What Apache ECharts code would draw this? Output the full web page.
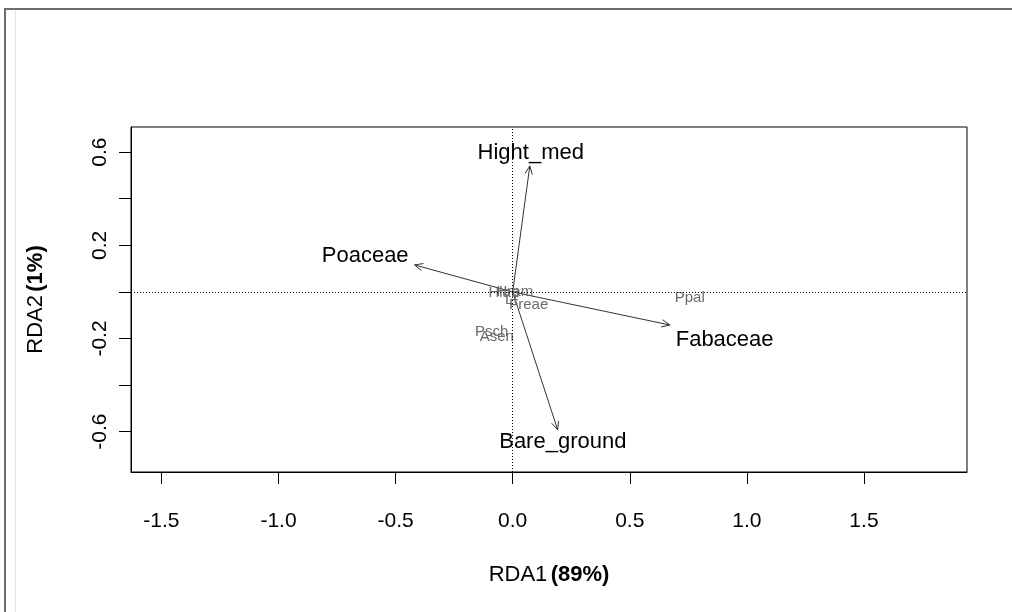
<!DOCTYPE html>
<html>
<head>
<meta charset="utf-8">
<script src="https://cdn.jsdelivr.net/npm/echarts@6/dist/echarts.min.js"></script>
<style>html,body{margin:0;padding:0;background:#fff;}#c{width:1012px;height:612px;}</style>
</head>
<body>
<div id="c"></div>
<script>
// Environmental vectors (arrow tips) and their label positions
const envNames = ['Hight_med', 'Poaceae', 'Fabaceae', 'Bare_ground'];
const envX = [0.073, -0.419, 0.671, 0.192];
const envY = [0.541, 0.116, -0.142, -0.592];
const envLabX = [0.077, -0.63, 0.905, 0.214];
const envLabY = [0.597, 0.155, -0.206, -0.644];
// Species scores
const spNames = ['Ppal', 'Psch', 'Asen', 'Hlan', 'Hram', 'Lt', 'Freae'];
const spX = [0.756, -0.09, -0.068, -0.038, 0.009, -0.006, 0.068];
const spY = [-0.026, -0.172, -0.193, -0.004, 0.0, -0.034, -0.056];
// Axis ticks
const xTicks = [-1.5, -1.0, -0.5, 0.0, 0.5, 1.0, 1.5];
const yTicks = [-0.6, -0.4, -0.2, 0.0, 0.2, 0.4, 0.6];
const yTickLabels = [-0.6, -0.2, 0.2, 0.6];

const FONT = '"Liberation Sans", Arial, sans-serif';
const chart = echarts.init(document.getElementById('c'), null, {renderer: 'canvas'});

const arrowData = envX.map((x, i) => [x, envY[i]]);
const envLabData = envLabX.map((x, i) => [x, envLabY[i], envNames[i]]);
const spData = spX.map((x, i) => [x, spY[i], spNames[i]]);

function textItem(list, color, size) {
  return function (params, api) {
    const p = api.coord([api.value(0), api.value(1)]);
    return {
      type: 'text',
      x: p[0], y: p[1],
      style: {
        text: list[params.dataIndex][2],
        fill: color,
        font: size + 'px ' + FONT,
        align: 'center',
        verticalAlign: 'middle'
      }
    };
  };
}

const option = {
  animation: false,
  backgroundColor: '#fff',
  grid: {left: 131, right: 45, top: 127, bottom: 140, show: true, borderColor: '#000', borderWidth: 1, containLabel: false},
  xAxis: {
    type: 'value', min: -1.63, max: 1.94,
    splitLine: {show: false},
    axisLine: {show: true, onZero: false, lineStyle: {color: '#000', width: 1}},
    axisTick: {show: true, length: 12, lineStyle: {color: '#000'}, customValues: xTicks},
    axisLabel: {customValues: xTicks, fontFamily: FONT, fontSize: 21, color: '#000', margin: 39,
      formatter: v => v.toFixed(1)},
    name: '{n|RDA1} {b|(89%)}', nameLocation: 'middle', nameGap: 92,
    nameTextStyle: {rich: {n: {fontFamily: FONT, fontSize: 22, color: '#000'}, b: {fontFamily: FONT, fontSize: 22, fontWeight: 'bold', color: '#000'}}}
  },
  yAxis: {
    type: 'value', min: -0.773, max: 0.708,
    splitLine: {show: false},
    axisLine: {show: true, onZero: false, lineStyle: {color: '#000', width: 1}},
    axisTick: {show: true, length: 12, lineStyle: {color: '#000'}, customValues: yTicks},
    axisLabel: {customValues: yTickLabels, rotate: 90, fontFamily: FONT, fontSize: 21, color: '#000', margin: 20,
      formatter: v => v.toFixed(1)},
    name: '{n|RDA2} {b|(1%)}', nameLocation: 'middle', nameGap: 84,
    nameTextStyle: {rich: {n: {fontFamily: FONT, fontSize: 22, color: '#000'}, b: {fontFamily: FONT, fontSize: 22, fontWeight: 'bold', color: '#000'}}}
  },
  graphic: [
    {type: 'line', shape: {x1: 4, y1: 9, x2: 1012, y2: 9}, style: {stroke: '#6e6e6e', lineWidth: 2}},
    {type: 'line', shape: {x1: 5, y1: 8, x2: 5, y2: 612}, style: {stroke: '#6e6e6e', lineWidth: 2}},
    {type: 'line', shape: {x1: 15.5, y1: 10, x2: 15.5, y2: 612}, style: {stroke: '#e4e4e4', lineWidth: 1}}
  ],
  series: [
    {
      id: 'zero', type: 'scatter', data: [], silent: true,
      markLine: {
        silent: true, symbol: 'none', animation: false,
        label: {show: false},
        lineStyle: {color: '#000', type: [1, 2], width: 1},
        data: [{xAxis: 0}, {yAxis: 0}]
      }
    },
    {
      id: 'arrows', type: 'custom', data: arrowData, silent: true,
      renderItem: function (params, api) {
        const o = api.coord([0, 0]);
        const p = api.coord([api.value(0), api.value(1)]);
        const ang = Math.atan2(p[1] - o[1], p[0] - o[0]);
        const L = 9, a = Math.PI / 7.5;
        const h1 = [p[0] - L * Math.cos(ang - a), p[1] - L * Math.sin(ang - a)];
        const h2 = [p[0] - L * Math.cos(ang + a), p[1] - L * Math.sin(ang + a)];
        return {type: 'group', children: [
          {type: 'line', shape: {x1: o[0], y1: o[1], x2: p[0], y2: p[1]}, style: {stroke: '#333', lineWidth: 1}},
          {type: 'polyline', shape: {points: [h1, p, h2]}, style: {stroke: '#333', lineWidth: 1, fill: null}}
        ]};
      }
    },
    {id: 'sp', type: 'custom', data: spData, silent: true, renderItem: textItem(spData, '#6a6a6a', 15)},
    {id: 'env', type: 'custom', data: envLabData, silent: true, renderItem: textItem(envLabData, '#000', 22)}
  ]
};
chart.setOption(option);
</script>
</body>
</html>
